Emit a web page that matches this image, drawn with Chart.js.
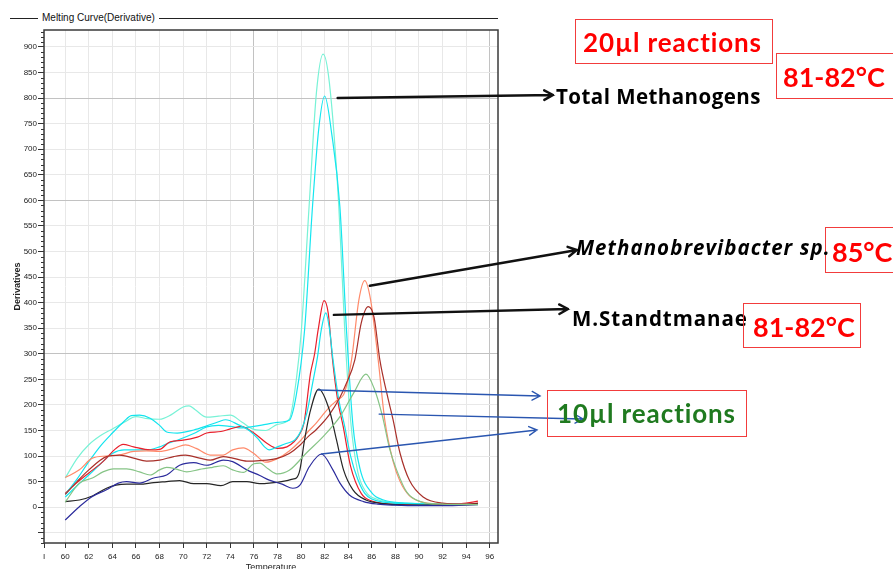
<!DOCTYPE html>
<html lang="en">
<head>
<meta charset="UTF-8">
<title>Melting Curve (Derivative)</title>
<script src="https://cdn.jsdelivr.net/npm/chart.js"></script>
<style>
  html, body { margin: 0; padding: 0; background: #fff; overflow: hidden; }
  #wrap { position: relative; width: 893px; height: 569px; overflow: hidden; }
  #meltChart { position: absolute; left: 0; top: 0; }
  .lbl { position: absolute; white-space: nowrap; line-height: 1; font-family: Lato, "Noto Sans", sans-serif; font-weight: 700; }
  .blk { font-family: "Open Sans", Lato, sans-serif; color: #000; font-size: 20.5px; }
  .box { position: absolute; border: 1.5px solid #f23c3c; box-sizing: border-box; }
  .red { color: #ff0000; }
  #ttl { position: absolute; left: 10px; top: 18px; width: 488px; height: 1px; background: #222; }
  #ttl span { position: absolute; left: 28px; top: -6px; background: #fff; padding: 0 4px; font: 10px "Liberation Sans", Arial, sans-serif; color: #111; line-height: 12px; }
</style>
</head>
<body>
<div id="wrap">
  <canvas id="meltChart" width="893" height="585"></canvas>
  <div id="ttl"><span>Melting Curve(Derivative)</span></div>

  <div class="box" style="left:575px;top:19px;width:198px;height:45px"></div>
  <div class="lbl red" style="left:583px;top:29px;font-size:26px;letter-spacing:0.9px">20µl reactions</div>

  <div class="box" style="left:776px;top:53px;width:125px;height:46px"></div>
  <div class="lbl red" style="left:783px;top:63px;font-size:27px">81-82°C</div>

  <div class="lbl blk" style="left:556px;top:86px;letter-spacing:0.45px">Total Methanogens</div>

  <div class="box" style="left:825px;top:227px;width:80px;height:46px"></div>
  <div class="lbl blk" style="left:576px;top:237px;font-style:italic;letter-spacing:1.05px">Methanobrevibacter sp.</div>
  <div class="lbl red" style="left:832px;top:238px;font-size:27px">85°C</div>

  <div class="lbl blk" style="left:572px;top:308px;letter-spacing:0.95px">M.Standtmanae</div>
  <div class="box" style="left:743px;top:303px;width:118px;height:45px"></div>
  <div class="lbl red" style="left:753px;top:313px;font-size:27px">81-82°C</div>

  <div class="box" style="left:547px;top:390px;width:200px;height:47px"></div>
  <div class="lbl" style="left:557px;top:400px;font-size:26px;letter-spacing:0.9px;color:#1f7a1f">10µl reactions</div>
</div>

<script>
// temperature (°C) / derivative readings per curve
const aquaT  = [60, 61, 62, 63, 64, 65, 66, 67, 68, 69, 70, 70.5, 71, 72, 73, 74, 75, 76, 77, 78, 79, 79.6, 80.03, 80.68, 81.3, 81.87, 82.4, 83.2, 83.7, 84.2, 84.8, 85.5, 86.5, 88, 90, 92, 95];
const aquaD  = [57, 95, 122, 140, 153, 166, 177, 173, 172, 181, 196, 198, 191, 176, 178, 180, 166, 152, 150, 162, 172, 250, 347, 588, 810, 886, 830, 588, 347, 170, 70, 30, 15, 9, 7, 6, 7];

const cyanT  = [60, 61, 62, 63, 64, 65, 66, 67, 68, 68.7, 69.5, 70.9, 72, 73, 74, 75, 76, 77, 78, 79, 79.6, 80.3, 80.97, 81.5, 82.0, 82.6, 83.29, 83.85, 84.4, 85, 86, 87, 89, 91, 93, 95];
const cyanD  = [20, 42, 63, 85, 105, 112, 112, 112, 118, 125, 131, 144, 157, 160, 158, 155, 158, 162, 166, 170, 220, 347, 588, 740, 804, 730, 588, 347, 160, 75, 28, 14, 8, 6, 6, 7];

const cyan10T = [60, 61, 62, 63, 64, 65, 65.6, 66.3, 67.2, 68, 68.6, 69.5, 70.9, 72, 73, 73.6, 74.7, 75.6, 76.3, 76.9, 77.3, 78, 78.8, 79.5, 80, 80.5, 81, 81.4, 81.7, 82.1, 82.4, 82.7, 83.2, 83.7, 84.2, 84.8, 85.4, 86, 87, 89, 91, 93, 95];
const cyan10D = [25, 55, 89, 120, 145, 168, 179, 180, 174, 160, 147, 145, 151, 159, 167, 171, 161, 150, 135, 118, 112, 118, 125, 132, 150, 185, 245, 295, 345, 380, 350, 290, 210, 158, 100, 55, 27, 16, 10, 7, 6, 6, 7];

const redT   = [60, 61, 62, 63.2, 64.3, 64.9, 65.8, 67.2, 68, 68.9, 70, 71.2, 72, 73.2, 74, 74.9, 76, 77.1, 78, 78.8, 79.4, 79.8, 80.25, 80.8, 81.15, 81.45, 81.95, 82.3, 82.67, 83.1, 83.57, 84.2, 85.1, 86, 88, 90, 92, 94, 95];
const redD   = [27, 48, 67, 89, 115, 123, 118, 112, 113, 128, 131, 137, 145, 148, 153, 158, 145, 125, 115, 118, 128, 140, 165, 262, 300, 347, 404, 380, 288, 210, 158, 80, 27, 12, 6, 5, 5, 8, 12];

const salmonT = [60, 61.2, 62.3, 63.5, 64.6, 65.8, 66.9, 68, 69.2, 70.2, 71.1, 72.3, 73.4, 74.2, 75.1, 76, 77, 78, 79, 79.9, 80.6, 81.3, 82, 82.6, 83.1, 83.7, 84.28, 84.9, 85.4, 85.9, 86.54, 87.1, 87.8, 88.4, 89.2, 90.3, 92, 94, 95];
const salmonD = [58, 73, 96, 100, 102, 109, 110, 109, 115, 122, 115, 102, 102, 112, 116, 105, 88, 95, 110, 129, 148, 165, 185, 200, 210, 225, 288, 405, 443, 405, 288, 170, 90, 50, 22, 10, 6, 6, 8];

const brownT = [60, 61, 62, 63.5, 64.6, 65.8, 66.9, 68, 69.2, 70.2, 71.4, 72.3, 73.4, 74.2, 75.4, 76.5, 77.9, 79, 79.9, 80.6, 81.3, 82.4, 83.3, 83.8, 84.56, 85.1, 85.7, 86.2, 86.68, 87.3, 87.8, 88.4, 89.2, 90.35, 92, 94, 95];
const brownD = [25, 50, 73, 99, 102, 96, 90, 92, 99, 102, 96, 92, 99, 96, 90, 91, 95, 105, 121, 138, 152, 181, 215, 240, 288, 360, 392, 370, 288, 220, 171, 105, 52, 20, 8, 6, 8];

const greenT = [60, 61.2, 62.3, 63.2, 64.1, 65.2, 66.3, 67.2, 68, 68.6, 69.5, 70.3, 71.4, 72.5, 73.4, 74.2, 75.1, 76, 76.5, 77.2, 78, 79, 80.45, 81.87, 83.3, 84.5, 85.5, 86.2, 86.9, 87.5, 88.1, 88.95, 90.1, 92, 95];
const greenD = [10, 47, 57, 69, 75, 75, 69, 63, 73, 78, 74, 69, 74, 78, 81, 73, 68, 85, 86, 75, 65, 72, 106, 138, 177, 225, 260, 232, 178, 115, 73, 30, 11, 6, 5];

const blackT = [60, 61.2, 62.3, 63.5, 64.3, 65.2, 66.3, 67.5, 68.6, 69.7, 70.9, 72, 73.2, 74.2, 75.4, 76.5, 77.3, 78.8, 79.3, 79.6, 79.9, 80.3, 80.74, 81.5, 82.4, 83.0, 83.6, 84.4, 85.5, 86.6, 88, 90, 92, 95];
const blackD = [11, 14, 22, 37, 43, 45, 45, 48, 50, 52, 46, 46, 42, 50, 50, 46, 47, 52, 55, 57, 73, 132, 184, 231, 190, 132, 73, 34, 14, 8, 5, 4, 4, 6];

const navyT  = [60, 61.2, 62.3, 63.5, 64.5, 65.2, 66.3, 67.5, 68.6, 69.7, 70.9, 72, 73.4, 74.2, 75.4, 76.5, 77.3, 78.4, 79.3, 79.9, 80.7, 81.73, 82.7, 83.3, 84.1, 85.3, 86.5, 88, 90, 92, 95];
const navyD  = [-25, 1, 21, 34, 47, 50, 47, 57, 63, 82, 87, 82, 92, 89, 73, 62, 53, 45, 37, 43, 79, 104, 73, 47, 24, 11, 6, 4, 3, 3, 5];

const xTickVals   = [58.2, 60, 62, 64, 66, 68, 70, 72, 74, 76, 78, 80, 82, 84, 86, 88, 90, 92, 94, 96];
const xTickLabels = ['I', '60', '62', '64', '66', '68', '70', '72', '74', '76', '78', '80', '82', '84', '86', '88', '90', '92', '94', '96'];
const yTickVals   = [-50, 0, 50, 100, 150, 200, 250, 300, 350, 400, 450, 500, 550, 600, 650, 700, 750, 800, 850, 900];
const yTickLabels = ['', '0', '50', '100', '150', '200', '250', '300', '350', '400', '450', '500', '550', '600', '650', '700', '750', '800', '850', '900'];
const darkX = [76, 96];
const darkY = [300, 600, 800];

// arrows: start on the curve (data units), end next to the labels (page px)
const arrows = [
    { from: [83.1, 800], to: [553, 95], color: '#111', w: 2.4 },
    { from: [85.83, 433], to: [577, 250], color: '#111', w: 2.4 },
    { from: [82.78, 376], to: [568, 309], color: '#111', w: 2.4 },
    { from: [81.44, 229], to: [540, 396], color: '#2a56b0', w: 1.4 },
    { from: [86.62, 182], to: [583, 419], color: '#2a56b0', w: 1.4 },
    { from: [81.73, 104], to: [537, 430], color: '#2a56b0', w: 1.4 }
];

function pts(ts, ds) {
    return ts.map((t, i) => ({ x: t, y: ds[i] }));
}

function curve(ts, ds, color) {
    return {
        data: pts(ts, ds),
        borderColor: color,
        borderWidth: 1.2,
        pointRadius: 0,
        fill: false,
        cubicInterpolationMode: 'monotone'
    };
}

const overlay = {
    id: 'overlay',
    afterDatasetsDraw(chart) {
        const ctx = chart.ctx;
        const a = chart.chartArea;
        const x = chart.scales.x, y = chart.scales.y;
        ctx.save();
        // minor ticks on the y axis
        ctx.strokeStyle = '#333';
        ctx.lineWidth = 1;
        ctx.beginPath();
        for (let v = -70; v <= 930; v += 10) {
            if (v % 50 === 0) continue;
            const py = Math.round(y.getPixelForValue(v)) + 0.5;
            ctx.moveTo(a.left - 3, py);
            ctx.lineTo(a.left, py);
        }
        ctx.stroke();
        // frame
        ctx.strokeStyle = '#3a3a3a';
        ctx.lineWidth = 1.5;
        ctx.strokeRect(a.left, a.top, a.right - a.left, a.bottom - a.top);
        // arrows
        arrows.forEach(ar => {
            const x0 = x.getPixelForValue(ar.from[0]);
            const y0 = y.getPixelForValue(ar.from[1]);
            const x1 = ar.to[0], y1 = ar.to[1];
            const ang = Math.atan2(y1 - y0, x1 - x0);
            const hl = ar.w > 2 ? 10 : 9;
            ctx.strokeStyle = ar.color;
            ctx.lineWidth = ar.w;
            ctx.lineCap = 'round';
            ctx.beginPath();
            ctx.moveTo(x0, y0);
            ctx.lineTo(x1, y1);
            ctx.moveTo(x1 - hl * Math.cos(ang - 0.5), y1 - hl * Math.sin(ang - 0.5));
            ctx.lineTo(x1, y1);
            ctx.lineTo(x1 - hl * Math.cos(ang + 0.5), y1 - hl * Math.sin(ang + 0.5));
            ctx.stroke();
        });
        ctx.restore();
    }
};

Chart.defaults.font.family = '"Liberation Sans", Arial, sans-serif';
Chart.defaults.color = '#222';

new Chart(document.getElementById('meltChart'), {
    type: 'line',
    data: {
        datasets: [
            curve(greenT, greenD, '#86c486'),
            curve(navyT, navyD, '#2b2b9c'),
            curve(blackT, blackD, '#262626'),
            curve(brownT, brownD, '#a8302a'),
            curve(salmonT, salmonD, '#ff8a6a'),
            curve(cyan10T, cyan10D, '#12e4ee'),
            curve(redT, redD, '#e8202c'),
            curve(cyanT, cyanD, '#14e6f0'),
            curve(aquaT, aquaD, '#78f2d6')
        ]
    },
    options: {
        responsive: false,
        animation: false,
        devicePixelRatio: 1,
        layout: { padding: { top: 30, right: 395, left: 0, bottom: 0 } },
        plugins: { legend: { display: false }, tooltip: { enabled: false } },
        scales: {
            x: {
                type: 'linear',
                min: 58.2,
                max: 96.7,
                afterBuildTicks: s => { s.ticks = xTickVals.map(v => ({ value: v })); },
                afterFit: s => { s.height = 42; },
                ticks: {
                    autoSkip: false,
                    maxRotation: 0,
                    padding: 4,
                    font: { size: 8 },
                    callback: (v, i) => xTickLabels[i]
                },
                grid: {
                    color: c => darkX.includes(c.tick.value) ? '#c2c2c2' : '#e8e8e8',
                    tickColor: '#333',
                    tickLength: 5
                },
                border: { display: false },
                title: { display: true, text: 'Temperature', font: { size: 9 }, padding: { top: 0, bottom: 12 } }
            },
            y: {
                min: -70,
                max: 933,
                afterBuildTicks: s => { s.ticks = yTickVals.map(v => ({ value: v })); },
                afterFit: s => { s.width = 44; },
                ticks: {
                    autoSkip: false,
                    padding: 1,
                    font: { size: 8 },
                    callback: (v, i) => yTickLabels[i]
                },
                grid: {
                    color: c => darkY.includes(c.tick.value) ? '#c2c2c2' : '#e8e8e8',
                    tickColor: '#333',
                    tickLength: 6
                },
                border: { display: false },
                title: { display: true, text: 'Derivatives', font: { size: 9, weight: 'bold' }, padding: { top: 12, bottom: 0 } }
            }
        }
    },
    plugins: [overlay]
});
</script>
</body>
</html>
